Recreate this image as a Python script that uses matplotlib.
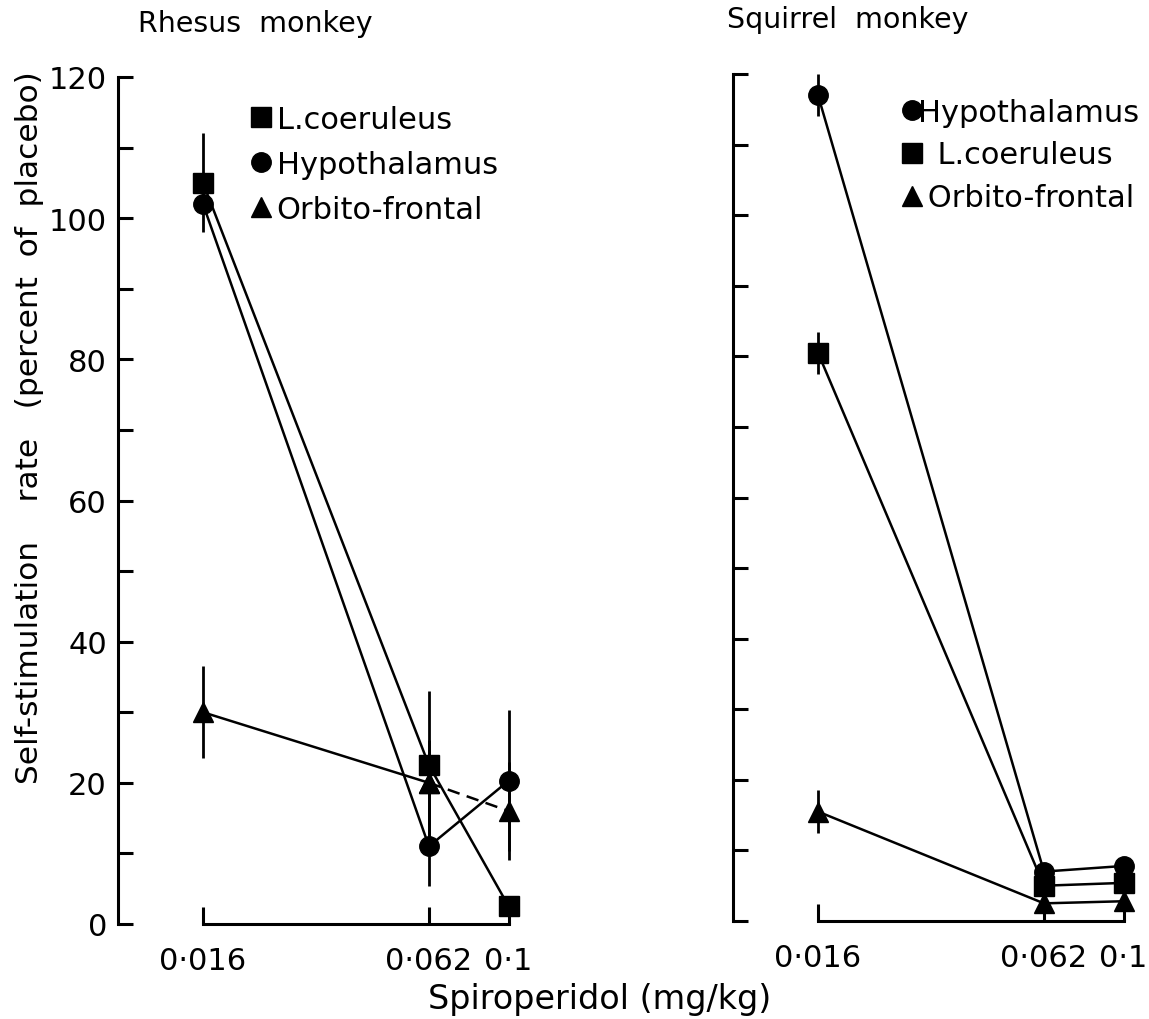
import matplotlib.pyplot as plt
import numpy as np

plt.rcParams['font.family'] = ['DejaVu Sans']

dose = [0.016, 0.062, 0.1]
dose_labels = ['0·016', '0·062', '0·1']

# Rhesus monkey
rh_lc = [105, 22.5, 2.5]
rh_lc_err = [7, 10.5, 0]
rh_hy = [102, 11, 20.3]
rh_hy_err = [0, 5.6, 10]
rh_of = [30, 20, 16]
rh_of_err = [6.5, 6, 7]

# Squirrel monkey
sq_hy = [117, 7, 7.8]
sq_hy_err = [3, 0, 0]
sq_lc = [80.5, 5, 5.4]
sq_lc_err = [3, 0, 0]
sq_of = [15.5, 2.5, 2.8]
sq_of_err = [3, 0, 0]

W, H = 1149, 1020
fig = plt.figure(figsize=(W/100, H/100), dpi=100)

lw = 1.8
fs = 22
pxdec = 384.0  # pixels per decade

def make_ax(left_px, right_px, top_px, bot_px, x016_px):
    ax = fig.add_axes([left_px/W, 1-bot_px/H, (right_px-left_px)/W, (bot_px-top_px)/H])
    ax.set_xscale('log')
    lo = 0.016 * 10**(-(x016_px-left_px)/pxdec)
    hi = 0.1 * 10**((right_px-(x016_px+0.796*pxdec))/pxdec)
    ax.set_xlim(lo, hi)
    ax.set_ylim(0, 120)
    for s in ['top', 'right']:
        ax.spines[s].set_visible(False)
    ax.spines['left'].set_linewidth(2.2)
    ax.spines['bottom'].set_linewidth(2.2)
    ax.spines['bottom'].set_bounds(0.016, 0.1)
    ax.set_xticks(dose)
    ax.set_xticklabels(dose_labels, fontsize=fs)
    ax.xaxis.set_minor_locator(plt.NullLocator())
    ax.tick_params(axis='x', direction='in', length=12, width=2.2, pad=16)
    ax.tick_params(axis='y', which='both', direction='in', length=11, width=2.2, pad=8, labelsize=fs)
    return ax

# left panel
ax1 = make_ax(118, 560, 78, 925, 203)
ax1.set_yticks(np.arange(0, 121, 20))
ax1.set_yticks(np.arange(10, 120, 20), minor=True)

ax1.errorbar(dose, rh_lc, yerr=rh_lc_err, fmt='none', ecolor='black', elinewidth=2.0, clip_on=False)
ax1.errorbar(dose, rh_hy, yerr=rh_hy_err, fmt='none', ecolor='black', elinewidth=2.0, clip_on=False)
ax1.errorbar(dose, rh_of, yerr=rh_of_err, fmt='none', ecolor='black', elinewidth=2.0, clip_on=False)
ax1.plot(dose, rh_lc, color='black', lw=lw, marker='s', ms=14, clip_on=False, label='L.coeruleus')
ax1.plot(dose, rh_hy, color='black', lw=lw, marker='o', ms=14, clip_on=False, label='Hypothalamus')
ax1.plot(dose[:2], rh_of[:2], color='black', lw=lw, marker='^', ms=15, clip_on=False, label='Orbito-frontal')
ax1.plot(dose[1:], rh_of[1:], color='black', lw=lw, ls=(0, (5, 3)), marker='^', ms=15, clip_on=False)

leg1 = ax1.legend(loc='upper left', bbox_to_anchor=(0.29, 0.985), frameon=False, fontsize=fs,
                  handlelength=0, handletextpad=0.5, labelspacing=0.52, borderpad=0)
for h in leg1.legend_handles:
    h.set_linestyle('none')

# right panel
ax2 = make_ax(733, 1147, 75, 922, 818)
ax2.set_yticks(np.arange(0, 121, 10))
ax2.set_yticklabels([])

ax2.errorbar(dose, sq_hy, yerr=sq_hy_err, fmt='none', ecolor='black', elinewidth=2.0, clip_on=False)
ax2.errorbar(dose, sq_lc, yerr=sq_lc_err, fmt='none', ecolor='black', elinewidth=2.0, clip_on=False)
ax2.errorbar(dose, sq_of, yerr=sq_of_err, fmt='none', ecolor='black', elinewidth=2.0, clip_on=False)
ax2.plot(dose, sq_hy, color='black', lw=lw, marker='o', ms=14, clip_on=False, label='Hypothalamus')
ax2.plot(dose, sq_lc, color='black', lw=lw, marker='s', ms=14, clip_on=False, label='  L.coeruleus')
ax2.plot(dose, sq_of, color='black', lw=lw, marker='^', ms=15, clip_on=False, label=' Orbito-frontal')

leg2 = ax2.legend(loc='upper left', bbox_to_anchor=(0.395, 0.99), frameon=False, fontsize=fs,
                  handlelength=0, handletextpad=0.2, labelspacing=0.45, borderpad=0)
for h in leg2.legend_handles:
    h.set_linestyle('none')

fig.text(255/W, 1-24/H, 'Rhesus  monkey', fontsize=20.5, ha='center', va='center')
fig.text(848/W, 1-20/H, 'Squirrel  monkey', fontsize=20.5, ha='center', va='center')
fig.text(30/W, 1-428/H, 'Self-stimulation    rate   (percent  of  placebo)', fontsize=22.5,
         rotation=90, ha='center', va='center')
fig.text(600/W, 1-1000/H, 'Spiroperidol (mg/kg)', fontsize=24, ha='center', va='center')

fig.savefig('out.png', dpi=100, facecolor='white')
